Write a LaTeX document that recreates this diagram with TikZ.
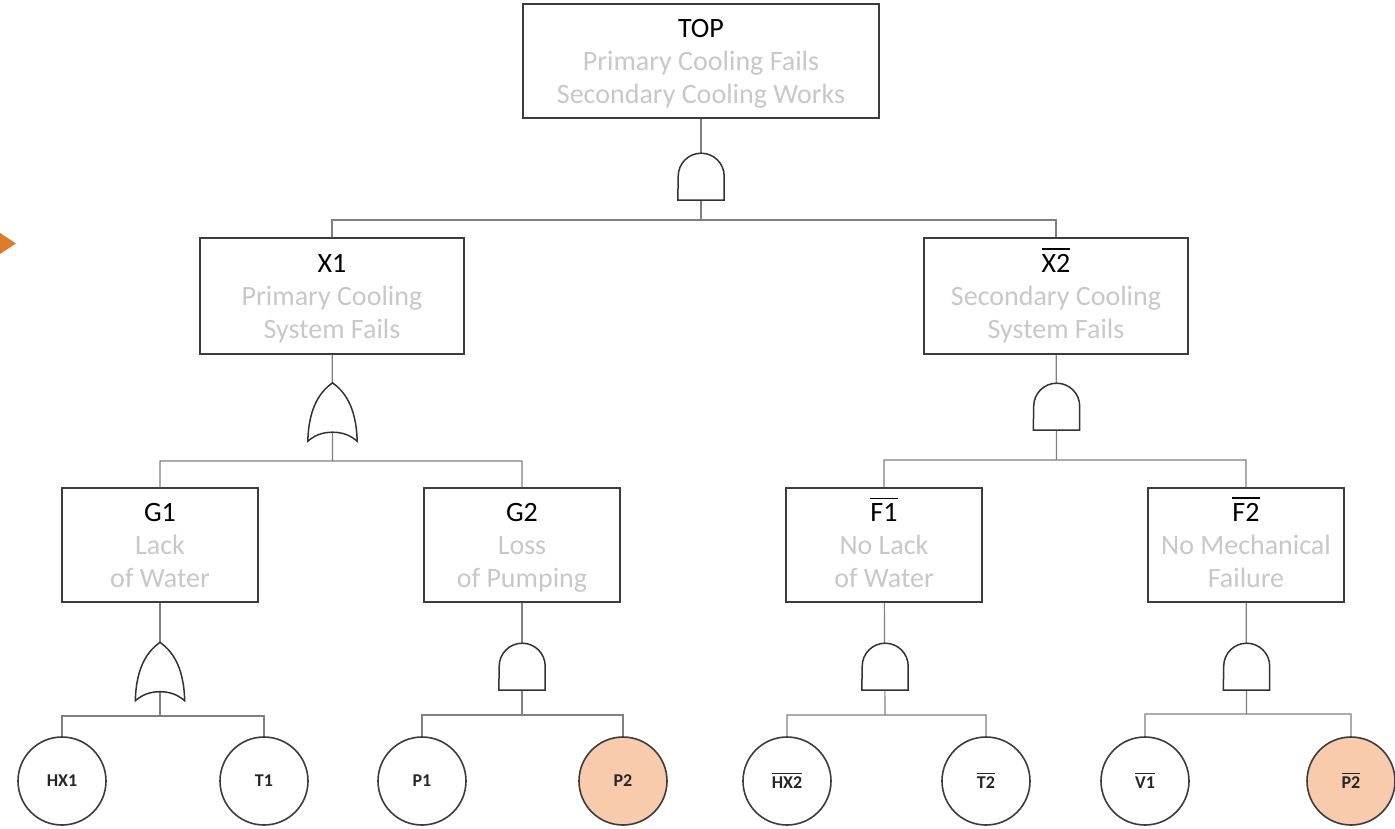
\documentclass[tikz,border=0pt]{standalone}
\usepackage{fontspec}
\setmainfont{Carlito}
\definecolor{wiregrey}{RGB}{128,128,128}
\definecolor{boxgrey}{RGB}{60,60,60}
\definecolor{labelgrey}{RGB}{200,200,200}
\definecolor{lightorange}{RGB}{248,203,173}
\definecolor{markorange}{RGB}{224,124,40}
\tikzstyle{event}=[draw=boxgrey,line width=1.8pt,rectangle,fill=white,align=center,
  inner sep=0pt,font=\fontsize{28}{33}\selectfont]
\tikzstyle{event2}=[event,minimum width=264pt,minimum height=116pt]
\tikzstyle{event3}=[event,minimum width=196pt,minimum height=114pt]
\tikzstyle{basic}=[draw=boxgrey,line width=1.6pt,circle,fill=white,inner sep=0pt,
  minimum size=88pt,font=\fontsize{18}{20}\selectfont\bfseries,text=black!85]
\tikzstyle{basic2}=[basic,fill=lightorange]
\tikzstyle{andbox}=[inner sep=0pt,minimum width=46pt,minimum height=47pt]
\tikzstyle{orbox}=[inner sep=0pt,minimum width=49pt,minimum height=58pt]
\tikzstyle{gate}=[draw=black!80,line width=1.5pt,fill=white]
\tikzstyle{wire}=[draw=wiregrey,line width=1.2pt]

% bar over a name
\newcommand{\cmpl}[1]{\setbox0\hbox{#1}%
  \rlap{\raisebox{\dimexpr\ht0+0.14em\relax}{\rule{\wd0}{0.055em}}}\box0}
\newcommand{\desc}[1]{{\color{labelgrey}#1}}
\newcommand{\evt}[3]{\rule{0pt}{30pt}#1\\\desc{#2}\\\desc{#3}\rule[-12pt]{0pt}{12pt}}
% gate outlines drawn over an empty node of the right size
\newcommand{\andgate}[1]{\draw[gate] (#1.south west) -- (#1.south east)
  -- ([yshift=24pt]#1.south east) arc[start angle=0,end angle=180,radius=23pt] -- cycle;}
\newcommand{\orgate}[1]{\draw[gate] (#1.south west)
  .. controls +(1pt,36pt) and +(-11pt,-8pt) .. (#1.north)
  .. controls +(11pt,-8pt) and +(-1pt,36pt) .. (#1.south east)
  .. controls +(-7pt,6pt) and +(10pt,0pt) .. ([yshift=9pt]#1.south)
  .. controls +(-10pt,0pt) and +(7pt,6pt) .. (#1.south west) -- cycle;}

\begin{document}
\begin{tikzpicture}[x=1pt, y=-1pt]
  \useasboundingbox (0,0) rectangle (1395,828);
  \fill[markorange] (0,233) -- (16,243.5) -- (0,254) -- cycle;

  \node[event, minimum width=356pt, minimum height=114pt] (top) at (701,61)
    {\evt{TOP}{Primary Cooling Fails}{Secondary Cooling Works}};
  \node[event2] (x1) at (332,296) {\evt{X1}{Primary Cooling}{System Fails}};
  \node[event2] (x2) at (1056,296) {\evt{\cmpl{X2}}{Secondary Cooling}{System Fails}};

  \node[event3] (g1) at (160,545) {\evt{G1}{Lack}{of Water}};
  \node[event3] (g2) at (522,545) {\evt{G2}{Loss}{of Pumping}};
  \node[event3] (f1) at (884,545) {\evt{\cmpl{F1}}{No Lack}{of Water}};
  \node[event3] (f2) at (1246,545) {\evt{\cmpl{F2}}{No Mechanical}{Failure}};

  \node[basic] (hx1) at (62,781) {HX1};
  \node[basic] (t1) at (264,781) {T1};
  \node[basic] (p1) at (422,781) {P1};
  \node[basic2] (p2) at (623,781) {P2};
  \node[basic] (hx2) at (787,781) {\cmpl{HX2}};
  \node[basic] (t2) at (986,781) {\cmpl{T2}};
  \node[basic] (v1) at (1145,781) {\cmpl{V1}};
  \node[basic2] (np2) at (1351,781) {\cmpl{P2}};

  \node[andbox] (a0) at (701,176.5) {};
  \node[orbox] (o1) at (332.5,412) {};
  \node[andbox] (a2) at (1056.5,406.5) {};
  \node[orbox] (o3) at (160,671.5) {};
  \node[andbox] (a4) at (522,666.5) {};
  \node[andbox] (a5) at (885,666.5) {};
  \node[andbox] (a6) at (1246.5,666.5) {};

  \coordinate (j0) at (701,220);
  \coordinate (j1) at (332.5,461);
  \coordinate (j2) at (1056.5,460);
  \coordinate (j3) at (160,716);
  \coordinate (j4) at (522,715);
  \coordinate (j5) at (885,715);
  \coordinate (j6) at (1246.5,714);

  \draw[wire] (top) -- (j0) (x1.north) |- (j0) -| (x2.north);
  \draw[wire] (x1) -- (j1) (g1.north) |- (j1) -| (g2.north);
  \draw[wire] (x2) -- (j2) (f1.north) |- (j2) -| (f2.north);
  \draw[wire] (g1) -- (j3) (hx1.north) |- (j3) -| (t1.north);
  \draw[wire] (g2) -- (j4) (p1.north) |- (j4) -| (p2.north);
  \draw[wire] (f1) -- (j5) (hx2.north) |- (j5) -| (t2.north);
  \draw[wire] (f2) -- (j6) (v1.north) |- (j6) -| (np2.north);

  \andgate{a0} \orgate{o1} \andgate{a2}
  \orgate{o3} \andgate{a4} \andgate{a5} \andgate{a6}
\end{tikzpicture}
\end{document}
